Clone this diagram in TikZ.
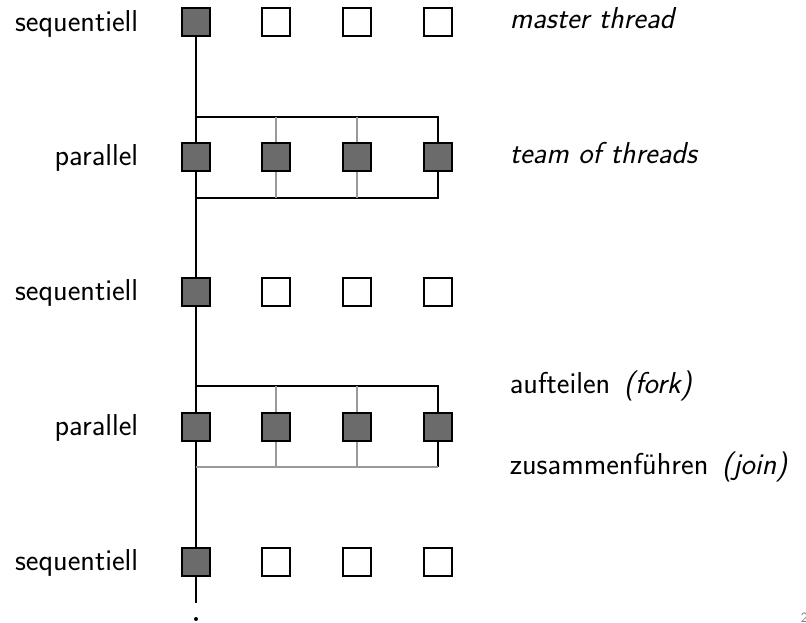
\documentclass[tikz,border=0pt]{standalone}
\usetikzlibrary{positioning,calc}
\tikzset{
  thr/.style={draw, minimum size=0.56cm, inner sep=0pt, line width=0.9pt},
  busy/.style={thr, fill=black!58},
  idle/.style={thr, fill=white},
  lab/.style={font=\sffamily\fontsize{17.2}{21}\selectfont, inner sep=0pt},
  thin/.style={black!40, line width=0.7pt}
}
\begin{document}
\begin{tikzpicture}[x=0.02cm,y=-0.02cm,line width=0.9pt]
\useasboundingbox (0,0) rectangle (806,623);
% threads
\foreach \r/\y in {1/22,3/292,5/562}{
  \node[busy] (t\r1) at (196,\y) {};
  \foreach \c/\x in {2/276,3/357,4/438} \node[idle] (t\r\c) at (\x,\y) {};
}
\foreach \r/\y in {2/157,4/427}
  \foreach \c/\x in {1/196,2/276,3/357,4/438} \node[busy] (t\r\c) at (\x,\y) {};
\coordinate (fork2) at (196,117);
\coordinate (join2) at (196,198);
\coordinate (fork4) at (196,386);
\coordinate (join4) at (196,467);
\coordinate (end) at (196,603);
% master line
\draw (t11.south) -- (t21.north);
\draw (t21.south) -- (t31.north);
\draw (t31.south) -- (t41.north);
\draw (t41.south) -- (t51.north);
\draw (t51.south) -- (end);
\fill (196,619) circle [radius=2];
% fork / join
\draw (fork2) -| (t24.north);
\draw (t24.south) |- (join2);
\draw (fork4) -| (t44.north);
\draw (t44.south) -- (t44.south |- join4);
\draw[thin] (t44.south |- join4) -- (join4);
\foreach \r/\f/\j in {2/fork2/join2,4/fork4/join4}
  \foreach \c in {2,3}{
    \draw[thin] (t\r\c.north) -- (t\r\c.north |- \f);
    \draw[thin] (t\r\c.south) -- (t\r\c.south |- \j);
  }
% labels
\foreach \r/\y/\t in {1/31/sequentiell,2/165/parallel,3/300/sequentiell,4/435/parallel,5/570/sequentiell}
  \node[lab, anchor=base east] (l\r) at (139,\y) {\t};
\node[lab, anchor=base west] (master) at (509,28) {\itshape master thread};
\node[lab, anchor=base west] (team) at (509,163) {\itshape team of threads};
\node[lab, anchor=base west] (fork) at (509,393) {aufteilen\hspace{0.45em}\textit{(fork)}};
\node[lab, anchor=base west] (join) at (509,474) {zusammenführen\hspace{0.45em}\textit{(join)}};
\node[gray, font=\sffamily\fontsize{8}{10}\selectfont, anchor=base west, inner sep=0pt] (page) at (800,622) {2};
\end{tikzpicture}
\end{document}
